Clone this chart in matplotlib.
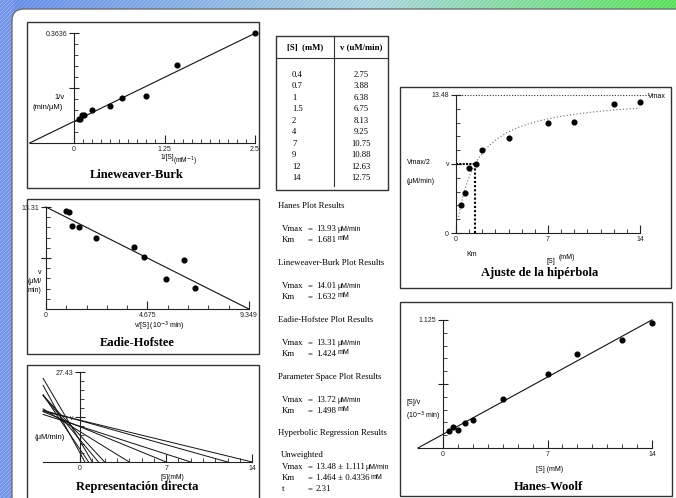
import numpy as np
import matplotlib
matplotlib.use('Agg')
import matplotlib.pyplot as plt
from matplotlib.patches import Rectangle, FancyBboxPatch

W, H = 676, 498
plt.rcParams['font.family'] = ['Liberation Sans', 'DejaVu Sans']

# ---------------- data ----------------
S_mM = [0.4, 0.7, 1, 1.5, 2, 4, 7, 9, 12, 14]
v_uM = [2.75, 3.88, 6.38, 6.75, 8.13, 9.25, 10.75, 10.88, 12.63, 12.75]
S_labels = ['0.4', '0.7', '1', '1.5', '2', '4', '7', '9', '12', '14']
v_labels = ['2.75', '3.88', '6.38', '6.75', '8.13', '9.25', '10.75', '10.88', '12.63', '12.75']

method_titles = ['Hanes Plot Results', 'Lineweaver-Burk Plot Results',
                 'Eadie-Hofstee Plot Results', 'Parameter Space Plot Results']
method_vmax = [13.93, 14.01, 13.31, 13.72]
method_km = [1.681, 1.632, 1.424, 1.498]
hyp_vmax, hyp_vmax_err = 13.48, 1.111
hyp_km, hyp_km_err = 1.464, 0.4336
hyp_t = 2.31

lb_ymax, lb_xmax = 0.3636, 2.5
eh_ymax, eh_xmax = 13.31, 9.349
dir_ymax, dir_xmin, dir_xmax = 27.43, -3.0, 14
hyp_ymax, hyp_xmax = 13.48, 14
hw_ymax, hw_xmax = 1.125, 14

S = np.array(S_mM)
v = np.array(v_uM)

fig = plt.figure(figsize=(W / 100, H / 100), dpi=100)

# ---------------- background ----------------
bg = fig.add_axes([0, 0, 1, 1])
bg.set_xlim(0, W)
bg.set_ylim(H, 0)
bg.axis('off')
img = np.ones((H, W, 3))
xs = np.linspace(0, 1, W)
stops = [0.0, 0.55, 1.0]
cols = np.array([[0.40, 0.55, 0.90], [0.66, 0.82, 0.86], [0.36, 0.87, 0.36]])
grad = np.stack([np.interp(xs, stops, cols[:, k]) for k in range(3)], axis=1)
img[:12, :, :] = grad[None, :, :]
jj, ii = np.meshgrid(np.arange(W), np.arange(H))
hatch = ((ii + jj) % 4 == 0)
left = np.array([0.45, 0.58, 0.92])
img[:, :14, :] = left
img[hatch & (jj < 14)] = [0.62, 0.72, 0.95]
img[hatch & (ii < 12) & (jj >= 14)] = np.clip(img[hatch & (ii < 12) & (jj >= 14)] + 0.08, 0, 1)
bg.imshow(img, extent=(0, W, H, 0), interpolation='nearest', aspect='auto')
bg.add_patch(FancyBboxPatch((12, 9), W + 20, H + 20,
                            boxstyle='round,pad=0,rounding_size=12',
                            fc='white', ec='#666666', lw=0.9))

def box(x0, y0, x1, y1):
    bg.add_patch(Rectangle((x0, y0), x1 - x0, y1 - y0, fc='white', ec='#333333', lw=1.0))

box(27, 22, 259, 188)     # Lineweaver-Burk
box(276, 36, 388, 190)    # table
box(400, 87, 671, 288)    # hyperbola
box(27, 199, 259, 354)    # Eadie-Hofstee
box(27, 365, 259, 502)    # direct
box(400, 302, 672, 496)   # Hanes

def btext(x, y, s, size=5.5, ha='center', va='center', family=None, **kw):
    fam = family if family else ['Liberation Sans', 'DejaVu Sans']
    return bg.text(x, y, s, fontsize=size, ha=ha, va=va, family=fam, **kw)

def title(x, y, s):
    btext(x, y, s, size=9, family=['Liberation Serif', 'DejaVu Serif'], weight='bold')

# ---------------- axes helpers ----------------
def make_ax(ox, oy, sx, sy, xlim, ylim):
    l = ox + xlim[0] * sx
    r = ox + xlim[1] * sx
    t = oy - ylim[1] * sy
    b = oy - ylim[0] * sy
    ax = fig.add_axes([l / W, 1 - b / H, (r - l) / W, (b - t) / H])
    ax.set_xlim(xlim)
    ax.set_ylim(ylim)
    ax.patch.set_alpha(0)
    for s in ['top', 'right']:
        ax.spines[s].set_visible(False)
    ax.spines['left'].set_position(('data', 0))
    ax.spines['bottom'].set_position(('data', 0))
    for s in ['left', 'bottom']:
        ax.spines[s].set_linewidth(0.8)
        ax.spines[s].set_color('#222222')
    return ax

def style(ax, xb, yb, xmaj, xlab, xmin, ymaj, ylab, ymin):
    ax.spines['bottom'].set_bounds(*xb)
    ax.spines['left'].set_bounds(*yb)
    ax.set_xticks(xmaj, xlab)
    ax.set_xticks(xmin, minor=True)
    ax.set_yticks(ymaj, ylab)
    ax.set_yticks(ymin, minor=True)
    ax.tick_params(axis='x', which='major', direction='in', length=6, width=0.8,
                   pad=2.5, labelsize=5, colors='#222222')
    ax.tick_params(axis='x', which='minor', direction='in', length=3, width=0.6, colors='#222222')
    ax.tick_params(axis='y', which='major', direction='inout', length=7, width=0.8,
                   pad=1.5, labelsize=5, colors='#222222')
    ax.tick_params(axis='y', which='minor', direction='in', length=3, width=0.6, colors='#222222')

MS = 3.4

# ---------------- Lineweaver-Burk ----------------
lb_v, lb_k = method_vmax[1], method_km[1]
ax = make_ax(74, 143, 72.4, 302.5, (-0.66, 2.6), (-0.02, 0.385))
style(ax, (-1 / lb_k, lb_xmax), (0, lb_ymax),
      [0, 1.25, 2.5], ['0', '1.25', '2.5'], np.linspace(0, lb_xmax, 21),
      [lb_ymax / 2, lb_ymax], ['', '0.3636'], np.linspace(0, lb_ymax, 11))
xl = np.array([-1 / lb_k, lb_xmax])
ax.plot(xl, lb_k / lb_v * xl + 1 / lb_v, color='#111111', lw=0.8)
ax.plot(1 / S, 1 / v, 'o', color='black', ms=MS)
btext(60, 97, '1/v')
btext(48, 107, '(min/\u03bcM)')
btext(167, 157, '1/[S]', size=4.8)
btext(185, 161, '(mM$^{-1}$)', size=4.8)
title(137, 175, 'Lineweaver-Burk')

# ---------------- table ----------------
bg.plot([276, 388], [58, 58], color='#333333', lw=0.8)
bg.plot([334, 334], [36, 186], color='#333333', lw=0.8)
serif = ['Liberation Serif', 'DejaVu Serif']
btext(305, 47, '[S]  (mM)', size=6.3, family=serif, weight='bold')
btext(361, 47, 'v (uM/min)', size=6.3, family=serif, weight='bold')
for i, (sl, vl) in enumerate(zip(S_labels, v_labels)):
    y = 75 + i * 11.45
    btext(292, y, sl, size=6.2, ha='left', family=serif)
    btext(361, y, vl, size=6.2, family=serif)

# ---------------- results text ----------------
renderer = fig.canvas.get_renderer()

def value_line(y, label, value, unit, x_eq=308, x_val=316, gap=1.5, raise_=0):
    btext(282, y, label, size=6.3, ha='left', family=serif)
    btext(x_eq, y, '=', size=6.3, ha='left', family=serif)
    t = btext(x_val, y, value, size=6.3, ha='left', family=serif)
    if unit:
        bb = t.get_window_extent(renderer)
        btext(bb.x1 + gap, y - raise_, unit, size=5, ha='left')

headers_y = [206, 263, 320, 377]
for hy, ht, vm, km in zip(headers_y, method_titles, method_vmax, method_km):
    btext(278, hy, ht, size=6.3, ha='left', family=serif)
    value_line(hy + 23, 'Vmax', f'{vm:.2f}', '\u03bcM/min')
    value_line(hy + 34, 'Km', f'{km:.3f}', 'mM', raise_=1.5)
btext(278, 433, 'Hyperbolic Regression Results', size=6.3, ha='left', family=serif)
btext(281, 455, 'Unweighted', size=6.3, ha='left', family=serif)
value_line(467, 'Vmax', f'{hyp_vmax:.2f} \u00b1 {hyp_vmax_err:.3f}', '\u03bcM/min', gap=0.5)
value_line(478, 'Km', f'{hyp_km:.3f} \u00b1 {hyp_km_err:.4f}', 'mM', raise_=1.0)
value_line(489, 't', f'{hyp_t:.2f}', None)

# ---------------- Eadie-Hofstee ----------------
eh_v, eh_k = method_vmax[2], method_km[2]
ax = make_ax(46, 309, 21.7, 7.66, (-0.3, 9.8), (-0.5, 14.0))
style(ax, (0, eh_xmax), (0, eh_ymax),
      [0, eh_xmax / 2, eh_xmax], ['0', '4.675', '9.349'], np.linspace(0, eh_xmax, 11),
      [eh_ymax / 2, eh_ymax], ['', '13.31'], np.linspace(0, eh_ymax, 11))
ax.plot([0, eh_v / eh_k], [eh_v, 0], color='#111111', lw=0.8)
ax.plot(v / S, v, 'o', color='black', ms=MS)
btext(41, 272, 'v', size=5, ha='right')
btext(42, 281, '(\u03bcM/', size=5, ha='right')
btext(41, 290, 'min)', size=5, ha='right')
btext(134, 326, 'v/[S] (10$^{-3}$ min)', size=5, ha='left')
title(137, 343, 'Eadie-Hofstee')

# ---------------- direct linear plot ----------------
ax = make_ax(80, 462, 12.3, 3.28, (-3.3, 14.6), (-1, 28.5))
style(ax, (dir_xmin, dir_xmax), (0, dir_ymax),
      [0, 7, 14], ['0', '7', '14'], np.arange(0, 15, 1),
      [dir_ymax / 2, dir_ymax], ['v', '27.43'], np.linspace(0, dir_ymax, 11))
for si, vi in zip(S, v):
    xx = np.array([dir_xmin, si])
    ax.plot(xx, vi * (1 - xx / si), color='#111111', lw=0.7)
btext(50, 437, '(\u03bcM/min)', size=5.5)
btext(172, 477, '[S](mM)', size=4.8)
title(137, 487, 'Representaci\u00f3n directa')

# ---------------- hyperbola ----------------
ax = make_ax(456, 233, 13.14, 10.24, (-0.5, 15.6), (-0.5, 14.2))
style(ax, (0, hyp_xmax), (0, hyp_ymax),
      [0, 7, 14], ['0', '7', '14'], np.arange(0, 15, 1),
      [0, hyp_vmax / 2, hyp_ymax], ['0', 'v', '13.48'], np.linspace(0, hyp_ymax, 11))
sc = np.linspace(0.15, 14, 200)
ax.plot(sc, hyp_vmax * sc / (hyp_km + sc), color='#666666', lw=0.8, ls=(0, (1, 2)))
ax.plot([0, 14.8], [hyp_vmax, hyp_vmax], color='#333333', lw=0.8, ls=(0, (1, 1.5)))
ax.plot([hyp_km, hyp_km], [0, hyp_vmax / 2], color='black', lw=1.5, ls=(0, (1, 1)))
ax.plot([0, hyp_km], [hyp_vmax / 2, hyp_vmax / 2], color='black', lw=1.5, ls=(0, (1, 0.6)))
ax.plot(S, v, 'o', color='black', ms=MS)
btext(419, 162, 'Vmax/2', size=5)
btext(421, 181, '(\u03bcM/min)', size=5)
btext(472, 254, 'Km', size=5)
btext(551, 261, '[S]', size=5)
btext(567, 257, '(mM)', size=5)
btext(657, 96, 'Vmax', size=5)
title(540, 273, 'Ajuste de la hip\u00e9rbola')

# ---------------- Hanes-Woolf ----------------
hw_v, hw_k = method_vmax[0], method_km[0]
ax = make_ax(443, 448, 14.93, 113.8, (-1.9, 14.6), (-0.03, 1.16))
style(ax, (-hw_k, hw_xmax), (0, hw_ymax),
      [0, 7, 14], ['0', '7', '14'], np.arange(0, 15, 1),
      [hw_ymax / 2, hw_ymax], ['', '1.125'], np.linspace(0, hw_ymax, 11))
xl = np.array([-hw_k, hw_xmax])
ax.plot(xl, (xl + hw_k) / hw_v, color='#111111', lw=0.8)
ax.plot(S, S / v, 'o', color='black', ms=MS)
btext(414, 402, '[S]/v', size=5)
btext(423, 416, '(10$^{-3}$ min)', size=5)
btext(550, 469, '[S] (mM)', size=5)
title(548, 487, 'Hanes-Woolf')

fig.savefig('out.png', dpi=100)
